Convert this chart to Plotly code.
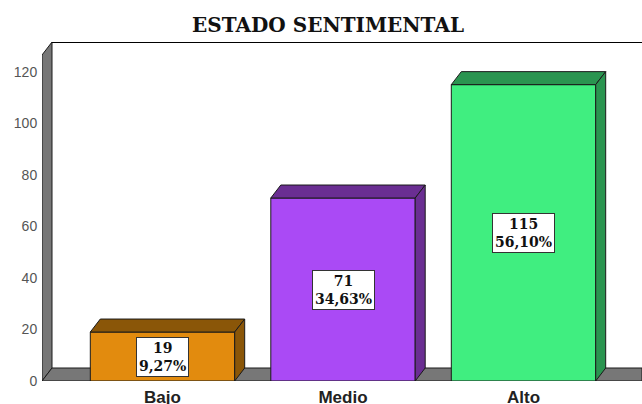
import plotly.graph_objects as go

CATEGORIAS = ["Bajo", "Medio", "Alto"]
VALORES = [19, 71, 115]
PORCENTAJES = ["9,27%", "34,63%", "56,10%"]
TICKS_Y = [0, 20, 40, 60, 80, 100, 120]

COLOR_FRENTE = ["#E28B0E", "#AA4AF5", "#40EE80"]
COLOR_LADO = ["#8A5608", "#6A2E92", "#2A9450"]
GRIS = "#777777"

ANCHO, ALTO = 642, 404
IZQ, ARRIBA, ABAJO = 42, 42, 23
PX_X = 180.5  # px por categoria
PX_Y = 2.577  # px por unidad
PROF_X = 10 / PX_X  # profundidad del efecto 3D
PROF_Y = 13 / PX_Y
MEDIO_BARRA = 0.4

x_min = -(162.5 - IZQ) / PX_X
x_max = x_min + (ANCHO - IZQ) / PX_X
y_max = (ALTO - ABAJO - ARRIBA) / PX_Y
y_frente = y_max - PROF_Y

fig = go.Figure()


def cara(xs, ys, color):
    fig.add_trace(
        go.Scatter(
            x=xs,
            y=ys,
            mode="lines",
            fill="toself",
            fillcolor=color,
            line=dict(color="#1a1a1a", width=1),
            hoverinfo="skip",
            showlegend=False,
        )
    )


# paredes
cara(
    [x_min, x_min + PROF_X, x_min + PROF_X, x_min, x_min],
    [0, PROF_Y, y_max, y_frente, 0],
    GRIS,
)
cara(
    [x_min, x_min + PROF_X, x_max, x_max, x_min],
    [0, PROF_Y, PROF_Y, 0, 0],
    GRIS,
)
fig.add_trace(
    go.Scatter(
        x=[x_min + PROF_X, x_max],
        y=[y_max, y_max],
        mode="lines",
        line=dict(color="black", width=2),
        cliponaxis=False,
        hoverinfo="skip",
        showlegend=False,
    )
)

# barras: frente, tapa y lado
xs_barras = list(range(len(CATEGORIAS)))
for i, v in enumerate(VALORES):
    izq, der = i - MEDIO_BARRA, i + MEDIO_BARRA
    cara(
        [izq, izq, der, der, izq],
        [0, v, v, 0, 0],
        COLOR_FRENTE[i],
    )
    cara(
        [izq, izq + PROF_X, der + PROF_X, der, izq],
        [v, v + PROF_Y, v + PROF_Y, v, v],
        COLOR_LADO[i],
    )
    cara(
        [der, der + PROF_X, der + PROF_X, der, der],
        [0, PROF_Y, v + PROF_Y, v, 0],
        COLOR_LADO[i],
    )
    fig.add_annotation(
        x=i,
        y=v / 2,
        text=f"{v}<br>{PORCENTAJES[i]}",
        showarrow=False,
        font=dict(family="DejaVu Serif", size=14, color="#111111", weight="bold"),
        bgcolor="white",
        bordercolor="#333333",
        borderwidth=1,
        borderpad=2,
    )

fig.update_layout(
    title=dict(
        text="<b>ESTADO SENTIMENTAL</b>",
        font=dict(family="DejaVu Serif", size=20, color="#111111"),
        x=328 / ANCHO,
        xanchor="center",
        y=1 - 25 / ALTO,
        yanchor="middle",
    ),
    width=ANCHO,
    height=ALTO,
    margin=dict(l=IZQ, r=0, t=ARRIBA, b=ABAJO, pad=0, autoexpand=False),
    plot_bgcolor="white",
    paper_bgcolor="white",
    showlegend=False,
    xaxis=dict(
        range=[x_min, x_max],
        tickmode="array",
        tickvals=xs_barras,
        ticktext=[f"<b>{c}</b>" for c in CATEGORIAS],
        tickfont=dict(family="Liberation Sans", size=17, color="#222222"),
        showgrid=False,
        zeroline=False,
        showline=False,
        ticks="outside",
        ticklen=1,
        tickcolor="white",
        automargin=False,
        fixedrange=True,
    ),
    yaxis=dict(
        range=[0, y_max],
        tickmode="array",
        tickvals=TICKS_Y,
        tickfont=dict(family="Liberation Sans", size=14, color="#555555"),
        showgrid=False,
        zeroline=False,
        showline=False,
        ticks="outside",
        ticklen=1,
        tickcolor="white",
        automargin=False,
        fixedrange=True,
    ),
)

# sin el margen por defecto del body
fig.write_html(
    "out.html",
    config=dict(displayModeBar=False),
    post_script="document.body.style.margin = '0';",
)
